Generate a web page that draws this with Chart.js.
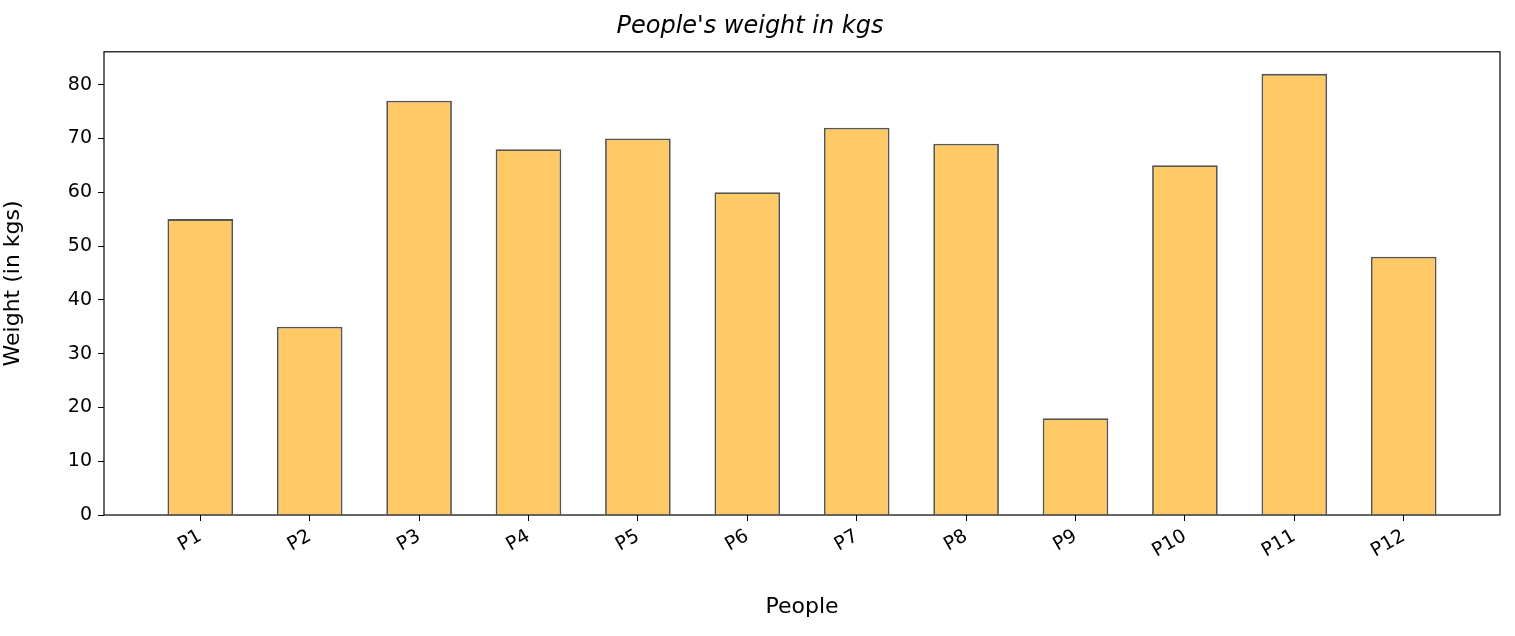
<!DOCTYPE html>
<html>
<head>
<meta charset="utf-8">
<script src="https://cdn.jsdelivr.net/npm/chart.js@4"></script>
<style>
  body { margin: 0; background: #fff; }
  #wrap { width: 1515px; height: 636px; }
</style>
</head>
<body>
<div id="wrap"><canvas id="weightChart"></canvas></div>
<script>
// Data
const people = ['P1', 'P2', 'P3', 'P4', 'P5', 'P6', 'P7', 'P8', 'P9', 'P10', 'P11', 'P12'];
const weights = [55, 35, 77, 68, 70, 60, 72, 69, 18, 65, 82, 48];
const yTicks = [0, 10, 20, 30, 40, 50, 60, 70, 80];

const FONT = 'DejaVu Sans';

// Draws the box around the plot area, matplotlib style
const frame = {
    id: 'frame',
    afterDraw(chart) {
        const { ctx, chartArea: a } = chart;
        ctx.save();
        ctx.strokeStyle = '#000';
        ctx.lineWidth = 1.2;
        ctx.strokeRect(a.left, a.top, a.right - a.left, a.bottom - a.top);
        ctx.restore();
    }
};

new Chart(document.getElementById('weightChart'), {
    type: 'bar',
    data: {
        datasets: [{
            data: weights.map((w, i) => ({ x: i, y: w })),
            backgroundColor: '#ffc966',
            borderColor: '#555555',
            borderWidth: 1.8,
            barPercentage: 0.6,
            categoryPercentage: 1
        }]
    },
    options: {
        responsive: true,
        maintainAspectRatio: false,
        animation: false,
        layout: { padding: { right: 15, top: 0, bottom: 0, left: 0 } },
        plugins: {
            legend: { display: false },
            tooltip: { enabled: false },
            title: {
                display: true,
                text: "People's weight in kgs",
                color: '#000',
                font: { family: FONT, size: 24, style: 'italic', weight: 'normal' },
                padding: { top: 12, bottom: 11 }
            }
        },
        scales: {
            x: {
                type: 'linear',
                min: -0.88,
                max: 11.88,
                offset: false,
                afterBuildTicks: s => { s.ticks = people.map((_, i) => ({ value: i })); },
                afterFit: s => { s.height = 121; },
                ticks: {
                    callback: v => people[v],
                    color: '#000',
                    font: { family: FONT, size: 19 },
                    maxRotation: 30,
                    minRotation: 30,
                    padding: 4
                },
                grid: { offset: false, drawOnChartArea: false, drawTicks: true, tickLength: 6, color: '#000' },
                border: { display: false },
                title: {
                    display: true,
                    text: 'People',
                    color: '#000',
                    font: { family: FONT, size: 22 },
                    padding: { top: 8, bottom: 16 }
                }
            },
            y: {
                min: 0,
                max: 86.1,
                afterBuildTicks: s => { s.ticks = yTicks.map(v => ({ value: v })); },
                afterFit: s => { s.width = 104; },
                ticks: {
                    color: '#000',
                    font: { family: FONT, size: 19 },
                    padding: 6
                },
                grid: { drawOnChartArea: false, drawTicks: true, tickLength: 6, color: '#000' },
                border: { display: false },
                title: {
                    display: true,
                    text: 'Weight (in kgs)',
                    color: '#000',
                    font: { family: FONT, size: 22 },
                    padding: { top: 0, bottom: 10 }
                }
            }
        }
    },
    plugins: [frame]
});
</script>
</body>
</html>
